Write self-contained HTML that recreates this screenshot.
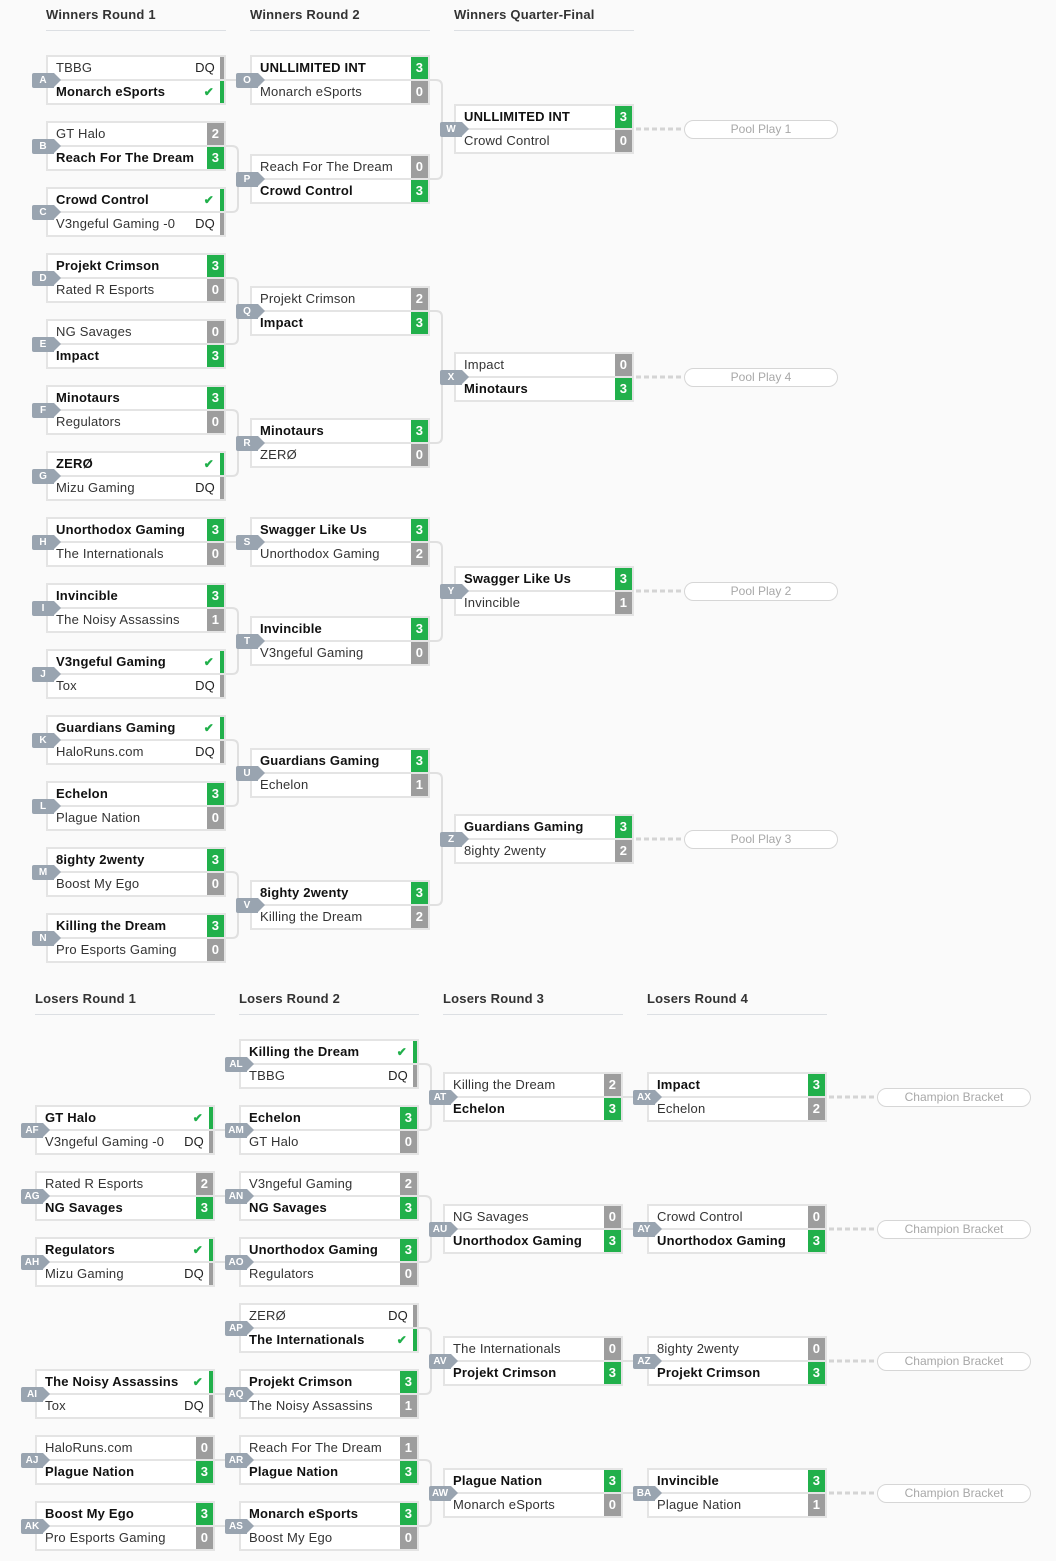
<!DOCTYPE html>
<html><head><meta charset="utf-8">
<style>
*{margin:0;padding:0;box-sizing:border-box}
body{width:1056px;height:1560px;background:#fafafa;font-family:"Liberation Sans",Arial,sans-serif;position:relative;overflow:hidden;color:#222}
#w{position:absolute;left:0;top:1px;width:1056px;height:1560px}
.h{position:absolute;font-size:13px;font-weight:bold;color:#333;width:180px;height:24px;border-bottom:1px solid #dcdfe3;letter-spacing:.2px}
.m{position:absolute;width:180px;height:50px;border:2px solid #e4e4e4;background:#fff}
.m p{position:relative;height:22px;line-height:22px;font-size:13px;padding-left:8px;color:#333;letter-spacing:.2px}
.m p+p{border-top:2px solid #e4e4e4;height:24px}
.m p.w{font-weight:bold;color:#111}
.m b{position:absolute;right:0;top:0;height:100%;font-weight:bold;text-align:center}
.m b.g,.m b.s{width:17px;color:#fff;font-size:13px}
.m b.g{background:#21b04b}
.m b.s{background:#9d9d9d}
.m b.q{font-weight:normal;color:#222;padding-right:5px;border-right:4px solid #9d9d9d}
.m b.k{color:#21b04b;padding-right:6px;border-right:4px solid #21b04b;font-size:12px}
.m i{position:absolute;left:-16px;top:16px;width:22px;height:15px;background:#99a4b0;color:#fff;font-style:normal;font-weight:bold;font-size:10px;line-height:15px;text-align:center;border-radius:2px 0 0 2px;z-index:2}
.m i:after{content:"";position:absolute;right:-7px;top:0;border-left:7px solid #99a4b0;border-top:7.5px solid transparent;border-bottom:7.5px solid transparent}
.pill{position:absolute;height:19px;border:1px solid #d6d6d6;border-radius:10px;background:#fff;color:#a8a8a8;font-size:12px;text-align:center;line-height:17px}
</style></head><body><div id="w">
<svg width="1056" height="1560" style="position:absolute;left:0;top:0" fill="none" stroke="#e0e0e0" stroke-width="2">
<path d="M226 79H250"/>
<path d="M226 145H232Q238 145 238 151V205Q238 211 232 211H226M238 178H250"/>
<path d="M226 277H232Q238 277 238 283V337Q238 343 232 343H226M238 310H250"/>
<path d="M226 409H232Q238 409 238 415V469Q238 475 232 475H226M238 442H250"/>
<path d="M226 541H250"/>
<path d="M226 607H232Q238 607 238 613V667Q238 673 232 673H226M238 640H250"/>
<path d="M226 739H232Q238 739 238 745V799Q238 805 232 805H226M238 772H250"/>
<path d="M226 871H232Q238 871 238 877V931Q238 937 232 937H226M238 904H250"/>
<path d="M430 79H436Q442 79 442 85V172Q442 178 436 178H430M442 128H454"/>
<path d="M430 310H436Q442 310 442 316V436Q442 442 436 442H430M442 376H454"/>
<path d="M430 541H436Q442 541 442 547V634Q442 640 436 640H430M442 590H454"/>
<path d="M430 772H436Q442 772 442 778V898Q442 904 436 904H430M442 838H454"/>
<path d="M215 1129H239M215 1195H239M215 1261H239M215 1393H239M215 1459H239M215 1525H239"/>
<path d="M419 1063H425Q431 1063 431 1069V1123Q431 1129 425 1129H419M431 1096H443"/>
<path d="M419 1195H425Q431 1195 431 1201V1255Q431 1261 425 1261H419M431 1228H443"/>
<path d="M419 1327H425Q431 1327 431 1333V1387Q431 1393 425 1393H419M431 1360H443"/>
<path d="M419 1459H425Q431 1459 431 1465V1519Q431 1525 425 1525H419M431 1492H443"/>
<path d="M623 1096H647M623 1228H647M623 1360H647M623 1492H647"/>
<g stroke="#d4d4d4" stroke-width="3" stroke-dasharray="5 3">
<path d="M636 128H681M636 376H681M636 590H681M636 838H681"/>
<path d="M829 1096H874M829 1228H874M829 1360H874M829 1492H874"/>
</g>
</svg>

<div class="h" style="left:46px;top:6px">Winners Round 1</div>
<div class="h" style="left:250px;top:6px">Winners Round 2</div>
<div class="h" style="left:454px;top:6px">Winners Quarter-Final</div>
<div class="h" style="left:35px;top:990px">Losers Round 1</div>
<div class="h" style="left:239px;top:990px">Losers Round 2</div>
<div class="h" style="left:443px;top:990px">Losers Round 3</div>
<div class="h" style="left:647px;top:990px">Losers Round 4</div>

<div class="m" style="left:46px;top:54px"><i>A</i><p>TBBG<b class="q">DQ</b></p><p class="w">Monarch eSports<b class="k">✔</b></p></div>
<div class="m" style="left:46px;top:120px"><i>B</i><p>GT Halo<b class="s">2</b></p><p class="w">Reach For The Dream<b class="g">3</b></p></div>
<div class="m" style="left:46px;top:186px"><i>C</i><p class="w">Crowd Control<b class="k">✔</b></p><p>V3ngeful Gaming -0<b class="q">DQ</b></p></div>
<div class="m" style="left:46px;top:252px"><i>D</i><p class="w">Projekt Crimson<b class="g">3</b></p><p>Rated R Esports<b class="s">0</b></p></div>
<div class="m" style="left:46px;top:318px"><i>E</i><p>NG Savages<b class="s">0</b></p><p class="w">Impact<b class="g">3</b></p></div>
<div class="m" style="left:46px;top:384px"><i>F</i><p class="w">Minotaurs<b class="g">3</b></p><p>Regulators<b class="s">0</b></p></div>
<div class="m" style="left:46px;top:450px"><i>G</i><p class="w">ZERØ<b class="k">✔</b></p><p>Mizu Gaming<b class="q">DQ</b></p></div>
<div class="m" style="left:46px;top:516px"><i>H</i><p class="w">Unorthodox Gaming<b class="g">3</b></p><p>The Internationals<b class="s">0</b></p></div>
<div class="m" style="left:46px;top:582px"><i>I</i><p class="w">Invincible<b class="g">3</b></p><p>The Noisy Assassins<b class="s">1</b></p></div>
<div class="m" style="left:46px;top:648px"><i>J</i><p class="w">V3ngeful Gaming<b class="k">✔</b></p><p>Tox<b class="q">DQ</b></p></div>
<div class="m" style="left:46px;top:714px"><i>K</i><p class="w">Guardians Gaming<b class="k">✔</b></p><p>HaloRuns.com<b class="q">DQ</b></p></div>
<div class="m" style="left:46px;top:780px"><i>L</i><p class="w">Echelon<b class="g">3</b></p><p>Plague Nation<b class="s">0</b></p></div>
<div class="m" style="left:46px;top:846px"><i>M</i><p class="w">8ighty 2wenty<b class="g">3</b></p><p>Boost My Ego<b class="s">0</b></p></div>
<div class="m" style="left:46px;top:912px"><i>N</i><p class="w">Killing the Dream<b class="g">3</b></p><p>Pro Esports Gaming<b class="s">0</b></p></div>

<div class="m" style="left:250px;top:54px"><i>O</i><p class="w">UNLLIMITED INT<b class="g">3</b></p><p>Monarch eSports<b class="s">0</b></p></div>
<div class="m" style="left:250px;top:153px"><i>P</i><p>Reach For The Dream<b class="s">0</b></p><p class="w">Crowd Control<b class="g">3</b></p></div>
<div class="m" style="left:250px;top:285px"><i>Q</i><p>Projekt Crimson<b class="s">2</b></p><p class="w">Impact<b class="g">3</b></p></div>
<div class="m" style="left:250px;top:417px"><i>R</i><p class="w">Minotaurs<b class="g">3</b></p><p>ZERØ<b class="s">0</b></p></div>
<div class="m" style="left:250px;top:516px"><i>S</i><p class="w">Swagger Like Us<b class="g">3</b></p><p>Unorthodox Gaming<b class="s">2</b></p></div>
<div class="m" style="left:250px;top:615px"><i>T</i><p class="w">Invincible<b class="g">3</b></p><p>V3ngeful Gaming<b class="s">0</b></p></div>
<div class="m" style="left:250px;top:747px"><i>U</i><p class="w">Guardians Gaming<b class="g">3</b></p><p>Echelon<b class="s">1</b></p></div>
<div class="m" style="left:250px;top:879px"><i>V</i><p class="w">8ighty 2wenty<b class="g">3</b></p><p>Killing the Dream<b class="s">2</b></p></div>

<div class="m" style="left:454px;top:103px"><i>W</i><p class="w">UNLLIMITED INT<b class="g">3</b></p><p>Crowd Control<b class="s">0</b></p></div>
<div class="m" style="left:454px;top:351px"><i>X</i><p>Impact<b class="s">0</b></p><p class="w">Minotaurs<b class="g">3</b></p></div>
<div class="m" style="left:454px;top:565px"><i>Y</i><p class="w">Swagger Like Us<b class="g">3</b></p><p>Invincible<b class="s">1</b></p></div>
<div class="m" style="left:454px;top:813px"><i>Z</i><p class="w">Guardians Gaming<b class="g">3</b></p><p>8ighty 2wenty<b class="s">2</b></p></div>

<div class="pill" style="left:684px;top:119px;width:154px">Pool Play 1</div>
<div class="pill" style="left:684px;top:367px;width:154px">Pool Play 4</div>
<div class="pill" style="left:684px;top:581px;width:154px">Pool Play 2</div>
<div class="pill" style="left:684px;top:829px;width:154px">Pool Play 3</div>

<div class="m" style="left:35px;top:1104px"><i>AF</i><p class="w">GT Halo<b class="k">✔</b></p><p>V3ngeful Gaming -0<b class="q">DQ</b></p></div>
<div class="m" style="left:35px;top:1170px"><i>AG</i><p>Rated R Esports<b class="s">2</b></p><p class="w">NG Savages<b class="g">3</b></p></div>
<div class="m" style="left:35px;top:1236px"><i>AH</i><p class="w">Regulators<b class="k">✔</b></p><p>Mizu Gaming<b class="q">DQ</b></p></div>
<div class="m" style="left:35px;top:1368px"><i>AI</i><p class="w">The Noisy Assassins<b class="k">✔</b></p><p>Tox<b class="q">DQ</b></p></div>
<div class="m" style="left:35px;top:1434px"><i>AJ</i><p>HaloRuns.com<b class="s">0</b></p><p class="w">Plague Nation<b class="g">3</b></p></div>
<div class="m" style="left:35px;top:1500px"><i>AK</i><p class="w">Boost My Ego<b class="g">3</b></p><p>Pro Esports Gaming<b class="s">0</b></p></div>

<div class="m" style="left:239px;top:1038px"><i>AL</i><p class="w">Killing the Dream<b class="k">✔</b></p><p>TBBG<b class="q">DQ</b></p></div>
<div class="m" style="left:239px;top:1104px"><i>AM</i><p class="w">Echelon<b class="g">3</b></p><p>GT Halo<b class="s">0</b></p></div>
<div class="m" style="left:239px;top:1170px"><i>AN</i><p>V3ngeful Gaming<b class="s">2</b></p><p class="w">NG Savages<b class="g">3</b></p></div>
<div class="m" style="left:239px;top:1236px"><i>AO</i><p class="w">Unorthodox Gaming<b class="g">3</b></p><p>Regulators<b class="s">0</b></p></div>
<div class="m" style="left:239px;top:1302px"><i>AP</i><p>ZERØ<b class="q">DQ</b></p><p class="w">The Internationals<b class="k">✔</b></p></div>
<div class="m" style="left:239px;top:1368px"><i>AQ</i><p class="w">Projekt Crimson<b class="g">3</b></p><p>The Noisy Assassins<b class="s">1</b></p></div>
<div class="m" style="left:239px;top:1434px"><i>AR</i><p>Reach For The Dream<b class="s">1</b></p><p class="w">Plague Nation<b class="g">3</b></p></div>
<div class="m" style="left:239px;top:1500px"><i>AS</i><p class="w">Monarch eSports<b class="g">3</b></p><p>Boost My Ego<b class="s">0</b></p></div>

<div class="m" style="left:443px;top:1071px"><i>AT</i><p>Killing the Dream<b class="s">2</b></p><p class="w">Echelon<b class="g">3</b></p></div>
<div class="m" style="left:443px;top:1203px"><i>AU</i><p>NG Savages<b class="s">0</b></p><p class="w">Unorthodox Gaming<b class="g">3</b></p></div>
<div class="m" style="left:443px;top:1335px"><i>AV</i><p>The Internationals<b class="s">0</b></p><p class="w">Projekt Crimson<b class="g">3</b></p></div>
<div class="m" style="left:443px;top:1467px"><i>AW</i><p class="w">Plague Nation<b class="g">3</b></p><p>Monarch eSports<b class="s">0</b></p></div>

<div class="m" style="left:647px;top:1071px"><i>AX</i><p class="w">Impact<b class="g">3</b></p><p>Echelon<b class="s">2</b></p></div>
<div class="m" style="left:647px;top:1203px"><i>AY</i><p>Crowd Control<b class="s">0</b></p><p class="w">Unorthodox Gaming<b class="g">3</b></p></div>
<div class="m" style="left:647px;top:1335px"><i>AZ</i><p>8ighty 2wenty<b class="s">0</b></p><p class="w">Projekt Crimson<b class="g">3</b></p></div>
<div class="m" style="left:647px;top:1467px"><i>BA</i><p class="w">Invincible<b class="g">3</b></p><p>Plague Nation<b class="s">1</b></p></div>

<div class="pill" style="left:877px;top:1087px;width:154px">Champion Bracket</div>
<div class="pill" style="left:877px;top:1219px;width:154px">Champion Bracket</div>
<div class="pill" style="left:877px;top:1351px;width:154px">Champion Bracket</div>
<div class="pill" style="left:877px;top:1483px;width:154px">Champion Bracket</div>
</div></body></html>
